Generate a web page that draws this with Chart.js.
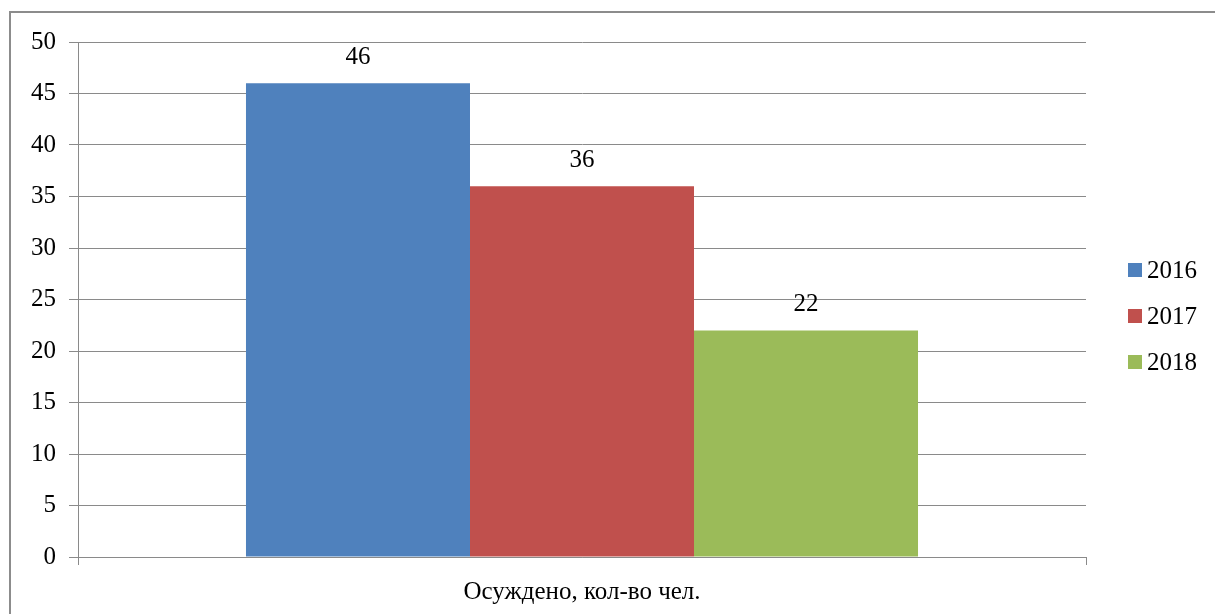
<!DOCTYPE html>
<html>
<head>
<meta charset="utf-8">
<script src="https://cdn.jsdelivr.net/npm/chart.js@4"></script>
<style>
  body { margin: 0; background: #fff; overflow: hidden; }
  #wrap { position: relative; width: 1215px; height: 614px; }
  #frame { position: absolute; left: 9px; top: 11px; width: 1300px; height: 700px; border: 2px solid #8c8c8c; }
  canvas { position: absolute; left: 0; top: 0; }
</style>
</head>
<body>
<div id="wrap">
  <div id="frame"></div>
  <canvas id="chart" width="1215" height="614"></canvas>
</div>
<script>
const categories = ['Осуждено, кол-во чел.']
const years = ['2016', '2017', '2018']
const values2016 = [46]
const values2017 = [36]
const values2018 = [22]
const colors = ['#4F81BD', '#C0504D', '#9BBB59']

const serif = '"Liberation Serif", "Times New Roman", serif'
const fontSize = 25

// numbers above the bars
const valueLabels = {
    id: 'valueLabels',
    afterDatasetsDraw(chart){
        const ctx = chart.ctx
        ctx.save()
        ctx.font = fontSize + 'px ' + serif
        ctx.fillStyle = '#000'
        ctx.textAlign = 'center'
        ctx.textBaseline = 'middle'
        chart.data.datasets.forEach((ds, i) => {
            chart.getDatasetMeta(i).data.forEach((bar, j) => {
                ctx.fillText(ds.data[j], bar.x, bar.y - 26)
            })
        })
        ctx.restore()
    }
}

// legend on the right, drawn by hand
const sideLegend = {
    id: 'sideLegend',
    afterDraw(chart){
        const ctx = chart.ctx
        ctx.save()
        ctx.font = fontSize + 'px ' + serif
        ctx.textBaseline = 'middle'
        chart.data.datasets.forEach((ds, i) => {
            const y = 270 + i * 46
            ctx.fillStyle = ds.backgroundColor
            ctx.fillRect(1128, y - 7, 14, 14)
            ctx.fillStyle = '#000'
            ctx.fillText(ds.label, 1147, y + 1)
        })
        ctx.restore()
    }
}

const series = [values2016, values2017, values2018]

new Chart(document.getElementById('chart'), {
    type: 'bar',
    data: {
        labels: categories,
        datasets: years.map((y, i) => ({
            label: y,
            data: series[i],
            backgroundColor: colors[i],
            borderWidth: 0,
            categoryPercentage: 0.6667,
            barPercentage: 1.0
        }))
    },
    options: {
        responsive: false,
        animation: false,
        devicePixelRatio: 1,
        layout: { padding: { left: 0, right: 129, top: 42, bottom: 0 } },
        plugins: { legend: { display: false }, tooltip: { enabled: false } },
        scales: {
            x: {
                afterFit(scale){ scale.height = 57 },
                grid: { display: true, offset: true, drawOnChartArea: false, tickLength: 8, color: '#8a8a8a' },
                border: { color: '#8a8a8a' },
                ticks: { color: '#000', font: { family: serif, size: fontSize }, padding: 12 }
            },
            y: {
                min: 0,
                max: 50,
                afterFit(scale){ scale.width = 78 },
                ticks: { stepSize: 5, color: '#000', font: { family: serif, size: fontSize }, padding: 13 },
                grid: { color: '#8a8a8a', tickLength: 9 },
                border: { color: '#8a8a8a' }
            }
        }
    },
    plugins: [valueLabels, sideLegend]
})
</script>
</body>
</html>
